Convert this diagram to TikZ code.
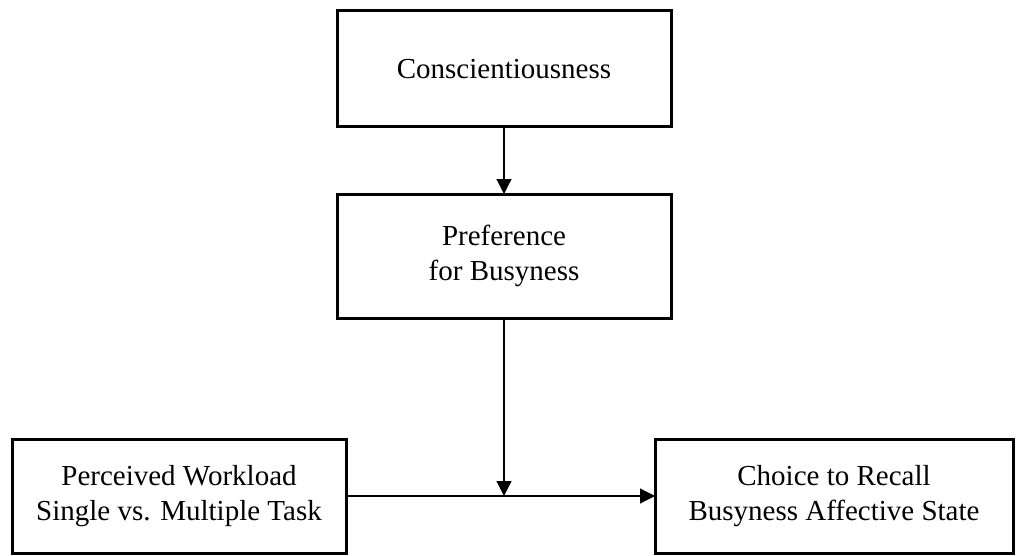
\documentclass[tikz,border=0pt]{standalone}
\usepackage{fontspec}
\setmainfont{Liberation Serif}
\usetikzlibrary{arrows.meta, positioning, calc}

\begin{document}
\begin{tikzpicture}[
    x=1pt, y=-1pt,
    >={Triangle[width=15pt,length=15pt]},
    box/.style={draw, line width=3pt, inner sep=0pt, outer sep=0pt,
        minimum width=334pt, minimum height=114pt, align=center,
        font=\fontsize{29}{35}\selectfont},
    link/.style={->, line width=1.2pt},
]
\useasboundingbox (0,0) rectangle (1016,556);
% === Top chain ===
\node[box, minimum height=116pt] (consc) at (504, 69) {Conscientiousness};
\node[box, minimum height=124pt] (pref) at (504, 256) {Preference\\for Busyness};
% === Bottom row ===
\node[box] (work) at (179, 496) {Perceived Workload\\Single vs. Multiple Task};
\node[box, minimum width=358pt] (recall) at (834, 496) {Choice to Recall\\Busyness Affective State};
% Arrows
\draw[link] (consc) -- (pref);
\draw[link] (work) -- (recall);
\coordinate (mod) at (pref.south |- work.east);
\draw[link] (pref) -- (mod);
\end{tikzpicture}
\end{document}
